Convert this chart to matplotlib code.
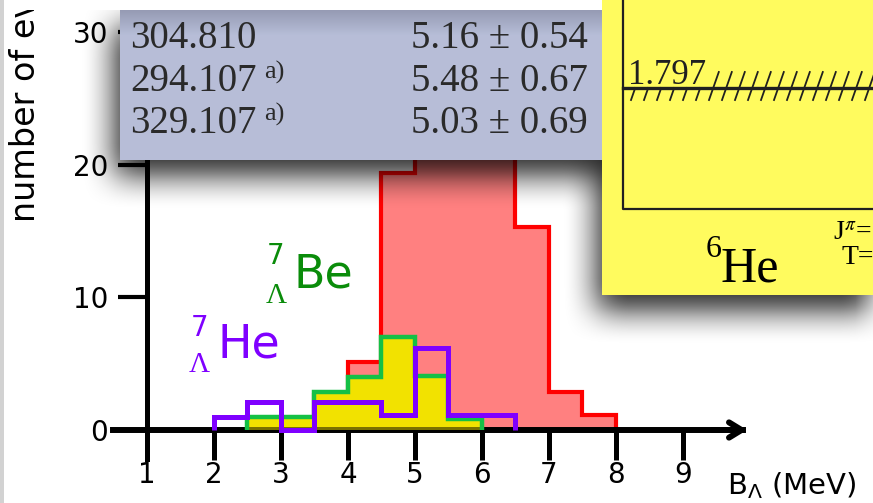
import numpy as np
import matplotlib
matplotlib.use('Agg')
import matplotlib.pyplot as plt
from matplotlib.patches import Rectangle

# histogram data (bins of 0.5 MeV)
edges_red = [3.5, 4.0, 4.5, 5.0, 5.5, 6.0, 6.5, 7.0, 7.5, 8.0]
counts_red = [2.6, 5.1, 19.4, 26, 30, 24, 15.3, 2.9, 1.1]

edges_be = [2.5, 3.0, 3.5, 4.0, 4.5, 5.0, 5.5, 6.0]
counts_be = [1.0, 1.0, 2.9, 4.0, 7.0, 4.1, 0.8]

edges_he = [2.0, 2.5, 3.0, 3.5, 4.0, 4.5, 5.0, 5.5, 6.0, 6.5]
counts_he = [1.0, 2.1, 0, 2.1, 2.1, 1.1, 6.2, 1.1, 1.1]

xticks = [1, 2, 3, 4, 5, 6, 7, 8, 9]
yticks = [0, 10, 20, 30]

table_left = ['304.810', '294.107', '329.107']
table_note = ['', 'a)', 'a)']
table_right = ['5.16 ± 0.54', '5.48 ± 0.67', '5.03 ± 0.69']

W, H = 873, 503
SERIF = 'Liberation Serif'


def blur(a, r):
    k = np.ones(2 * r + 1) / (2 * r + 1)
    for _ in range(2):
        for axis in (0, 1):
            a = np.apply_along_axis(lambda m: np.convolve(m, k, mode='same'), axis, a)
    return a


fig = plt.figure(figsize=(W / 100, H / 100), dpi=100)

# main histogram axes, scaled so that the data matches the picture
ax = fig.add_axes([0, 0, 1, 1])
ax.set_xlim(1 - 147 / 67, 1 + (W - 147) / 67)
ax.set_ylim((430 - H) / 13.27, 430 / 13.27)
ax.patch.set_visible(False)

ax.stairs(counts_red, edges_red, fill=True, color='#ff8080', zorder=1)
ax.stairs(counts_red, edges_red, color='#ff0000', lw=3, zorder=1.5)
ax.stairs(counts_be, edges_be, fill=True, color='#f2e200', zorder=2)
ax.stairs(counts_be, edges_be, fill=True, color='#f2e200', alpha=0.5, zorder=3)
ax.stairs(counts_be, edges_be, color='#14c046', lw=3.2, zorder=4)
ax.stairs(counts_he, edges_he, color='#7f00ff', lw=3.6, zorder=5)

for s in ['top', 'right']:
    ax.spines[s].set_visible(False)
ax.spines['left'].set_position(('data', 1))
ax.spines['left'].set_bounds(-2.2, 30)
ax.spines['left'].set_linewidth(3.6)
ax.spines['bottom'].set_position(('data', 0))
ax.spines['bottom'].set_bounds(0.5, 9.9)
ax.spines['bottom'].set_linewidth(4.3)
ax.annotate('', xy=(10.0, 0), xytext=(9.4, 0),
            arrowprops=dict(arrowstyle='->,head_length=0.9,head_width=0.55', lw=4.3, color='black'))

ax.set_xticks(xticks)
ax.set_yticks(yticks)
ax.tick_params(axis='x', direction='out', length=21.6, width=3.6, labelsize=20, pad=1)
ax.tick_params(axis='y', direction='out', length=21, width=3, labelsize=20, pad=7)

# overlay in pixel coordinates for the slide decorations
ov = fig.add_axes([0, 0, 1, 1], zorder=5)
ov.set_xlim(0, W)
ov.set_ylim(H, 0)
ov.axis('off')
ov.patch.set_visible(False)

ov.text(26, 222, 'number of events', rotation=90, ha='center', va='bottom', fontsize=24)

# drop shadows of the two pasted boxes
mask = np.zeros((H, W))
mask[10 + 16:160 + 16, 120 - 6:602 - 6] = 1
mask[0:295 + 16, 602 - 6:W] = 1
sh = blur(mask, 17)
rgba = np.zeros((H, W, 4))
rgba[..., 3] = np.clip(0.85 * sh, 0, 1)
ov.imshow(rgba, extent=(0, W, H, 0), zorder=0, aspect='auto', interpolation='bilinear')

# table box
grad = np.linspace(0, 1, 150)[:, None]
grad = np.clip(grad * 6, 0, 1)
top_c = np.array([150, 155, 180]) / 255
bot_c = np.array([183, 190, 216]) / 255
img = top_c + (bot_c - top_c) * grad[..., None]
img = np.repeat(img, 482, axis=1)
ov.imshow(img, extent=(120, 602, 160, 10), zorder=1, aspect='auto')
for i, (l, n, r) in enumerate(zip(table_left, table_note, table_right)):
    yb = 48 + i * 42.5
    ov.text(130, yb, l, fontsize=28, family=SERIF, color='#2a2a2a', va='baseline', zorder=2)
    if n:
        ov.text(264, yb - 30, n, fontsize=19, family=SERIF, color='#2a2a2a', va='top', zorder=2)
    ov.text(588, yb, r, fontsize=28, family=SERIF, color='#2a2a2a', ha='right', va='baseline', zorder=2)

# white slide margin on top
ov.add_patch(Rectangle((0, 0), 602, 10, fc='white', ec='none', zorder=6))

# yellow level scheme box
ov.add_patch(Rectangle((602, 0), W - 602, 295, fc='#fffb5e', ec='none', zorder=3))
ov.plot([623, 623, W], [0, 209, 209], color='#202020', lw=1.6, zorder=4)
ov.plot([623, W], [88, 88], color='#202020', lw=2.4, zorder=4)
for x in np.arange(636, W, 13):
    ytop = 72 if x > 705 else 88
    ov.plot([x - 5, x - 5 + (100 - ytop) * 0.35], [100, ytop], color='#202020', lw=1.3, zorder=4)
ov.text(628, 84, '1.797', fontsize=25, family=SERIF, color='#202020', va='baseline', zorder=4)
ov.text(706, 257, '6', fontsize=23, family=SERIF, va='baseline', zorder=4)
ov.text(721, 281, 'He', fontsize=36, family=SERIF, va='baseline', zorder=4)
ov.text(833, 240, r'J$^{\pi}$=', fontsize=20, family=SERIF, math_fontfamily='stix',
        va='baseline', zorder=4)
ov.text(841, 264, 'T=', fontsize=20, family=SERIF, va='baseline', zorder=4)

# hypernucleus labels
green = '#0a8c0a'
purple = '#7f00ff'
ov.text(267, 264, '7', fontsize=20, color=green, va='baseline')
ov.text(266, 303, 'Λ', fontsize=21, family=SERIF, color=green, va='baseline')
ov.text(293, 287, 'Be', fontsize=33, color=green, va='baseline')
ov.text(191, 336, '7', fontsize=20, color=purple, va='baseline')
ov.text(189, 372, 'Λ', fontsize=21, family=SERIF, color=purple, va='baseline')
ov.text(218, 357, 'He', fontsize=33, color=purple, va='baseline')

ov.text(727, 494, r'B$_\Lambda$ (MeV)', fontsize=21, va='baseline')

# slide frame edge
ov.add_patch(Rectangle((0, 0), 4, H, fc='#d2d2d2', ec='none', zorder=6))

fig.savefig('out.png', dpi=100)
